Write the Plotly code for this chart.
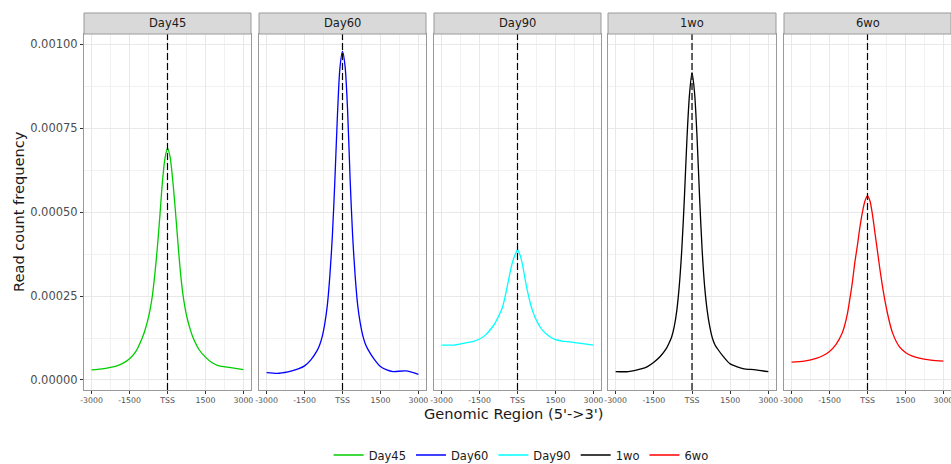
import plotly.graph_objects as go

# ---------------- data ----------------
positions = [-3000, -2500, -2000, -1750, -1500, -1250, -1000, -900, -800, -700, -600, -500,
             -400, -300, -200, -100, 0, 100, 200, 300, 400, 500, 600, 700, 800, 900, 1000,
             1250, 1500, 1750, 2000, 2500, 3000]

samples = ["Day45", "Day60", "Day90", "1wo", "6wo"]

day45 = [0.000030, 0.000034, 0.000042, 0.000050, 0.000063, 0.000085, 0.000125, 0.000146,
         0.000172, 0.000205, 0.000250, 0.000315, 0.000395, 0.000490, 0.000590, 0.000660,
         0.000690, 0.000665, 0.000600, 0.000515, 0.000420, 0.000330, 0.000260, 0.000212,
         0.000177, 0.000150, 0.000128, 0.000090, 0.000068, 0.000052, 0.000043, 0.000037,
         0.000031]

day60 = [0.000022, 0.000020, 0.000027, 0.000033, 0.000042, 0.000060, 0.000088, 0.000105,
         0.000130, 0.000168, 0.000222, 0.000310, 0.000430, 0.000597, 0.000788, 0.000930,
         0.000978, 0.000935, 0.000805, 0.000600, 0.000430, 0.000310, 0.000223, 0.000170,
         0.000133, 0.000108, 0.000092, 0.000062, 0.000040, 0.000030, 0.000025, 0.000027,
         0.000017]

day90 = [0.000104, 0.000104, 0.000111, 0.000115, 0.000122, 0.000135, 0.000157, 0.000168,
         0.000182, 0.000197, 0.000215, 0.000245, 0.000280, 0.000318, 0.000350, 0.000372,
         0.000387, 0.000372, 0.000342, 0.000300, 0.000262, 0.000230, 0.000205, 0.000185,
         0.000170, 0.000157, 0.000147, 0.000130, 0.000120, 0.000116, 0.000114, 0.000109,
         0.000104]

wo1 = [0.000025, 0.000025, 0.000033, 0.000040, 0.000053, 0.000070, 0.000095, 0.000110,
       0.000128, 0.000158, 0.000205, 0.000280, 0.000390, 0.000540, 0.000715, 0.000848,
       0.000915, 0.000855, 0.000720, 0.000540, 0.000385, 0.000275, 0.000205, 0.000158,
       0.000125, 0.000105, 0.000093, 0.000068, 0.000048, 0.000040, 0.000034, 0.000030,
       0.000025]

wo6 = [0.000053, 0.000056, 0.000065, 0.000073, 0.000085, 0.000105, 0.000140, 0.000163,
       0.000195, 0.000240, 0.000290, 0.000350, 0.000400, 0.000455, 0.000500, 0.000533,
       0.000548, 0.000532, 0.000490, 0.000435, 0.000380, 0.000325, 0.000275, 0.000232,
       0.000195, 0.000163, 0.000138, 0.000100, 0.000082, 0.000072, 0.000066, 0.000059,
       0.000056]

series = [day45, day60, day90, wo1, wo6]
colors = ["#00CD00", "#0000FF", "#00FFFF", "#000000", "#FF0000"]

x_tickvals = [-3000, -1500, 0, 1500, 3000]
x_ticktext = ["-3000", "-1500", "TSS", "1500", "3000"]
x_minor = [-2250, -750, 750, 2250]
y_tickvals = [0, 0.00025, 0.0005, 0.00075, 0.001]
y_ticktext = ["0.00000", "0.00025", "0.00050", "0.00075", "0.00100"]
y_minor = [0.000125, 0.000375, 0.000625, 0.000875]

# ---------------- layout geometry (px) ----------------
W, H = 951, 464
panels_px = [(84, 251), (259, 426), (434, 601), (608, 776), (784, 951)]
panel_top, panel_bot = 34, 390
strip_top = 13

def px_x(p):
    return p / W

def px_y(p):
    return 1 - p / H

fig = go.Figure()

layout = dict(
    width=W, height=H,
    margin=dict(l=0, r=0, t=0, b=0, autoexpand=False),
    paper_bgcolor="white", plot_bgcolor="white",
    font=dict(family="DejaVu Sans", color="#4d4d4d"),
    showlegend=True,
    legend=dict(orientation="h", x=0.548, xanchor="center", y=px_y(455), yanchor="middle",
                font=dict(size=11.5, color="#1a1a1a"), bgcolor="rgba(0,0,0,0)",
                itemwidth=30, tracegroupgap=0),
)

grid_major = "#e8e8e8"
grid_minor = "#f1f1f1"
border_col = "#9a9a9a"

shapes = []
annotations = []

for i, (name, vals, col) in enumerate(zip(samples, series, colors)):
    k = "" if i == 0 else str(i + 1)
    xa, ya = "x" + k, "y" + k
    fig.add_trace(go.Scatter(
        x=positions, y=vals, mode="lines", name=name,
        line=dict(color=col, width=1.3, shape="spline", smoothing=0.8),
        xaxis=xa, yaxis=ya,
    ))
    x0, x1 = panels_px[i]
    layout["xaxis" + k] = dict(
        domain=[px_x(x0), px_x(x1)], anchor=ya, automargin=False,
        range=[-3300, 3300],
        tickmode="array", tickvals=x_tickvals, ticktext=x_ticktext,
        tickfont=dict(size=7.8, color="#4d4d4d"),
        ticklabeloverflow="allow",
        ticks="outside", ticklen=3, tickcolor="#333333", tickwidth=1,
        showgrid=True, gridcolor=grid_major, gridwidth=1,
        minor=dict(tickmode="array", tickvals=x_minor, showgrid=True,
                   gridcolor=grid_minor, gridwidth=0.8, ticks=""),
        zeroline=False, showline=True, mirror=True, linecolor=border_col, linewidth=1,
        fixedrange=True,
    )
    layout["yaxis" + k] = dict(
        domain=[px_y(panel_bot), px_y(panel_top)], anchor=xa, automargin=False,
        range=[-0.0000298, 0.00103],
        tickmode="array", tickvals=y_tickvals, ticktext=y_ticktext,
        showticklabels=(i == 0),
        tickfont=dict(size=11.5, color="#4d4d4d"),
        ticks="outside" if i == 0 else "", ticklen=3, tickcolor="#333333",
        showgrid=True, gridcolor=grid_major, gridwidth=1,
        minor=dict(tickmode="array", tickvals=y_minor, showgrid=True,
                   gridcolor=grid_minor, gridwidth=0.8, ticks=""),
        zeroline=False, showline=True, mirror=True, linecolor=border_col, linewidth=1,
        fixedrange=True,
    )
    # TSS dashed line
    shapes.append(dict(type="line", xref=xa, yref=ya + " domain", x0=0, x1=0, y0=0, y1=1,
                       line=dict(color="black", width=1.2, dash="7px,3px"), layer="above"))
    # strip
    shapes.append(dict(type="rect", xref="paper", yref="paper",
                       x0=px_x(x0), x1=px_x(x1), y0=px_y(panel_top), y1=px_y(strip_top),
                       fillcolor="#d9d9d9", line=dict(color=border_col, width=1), layer="above"))
    annotations.append(dict(text=name, xref="paper", yref="paper",
                            x=px_x((x0 + x1) / 2), y=px_y((panel_top + strip_top) / 2),
                            xanchor="center", yanchor="middle", showarrow=False,
                            font=dict(size=11.5, color="#1a1a1a")))

annotations.append(dict(text="Genomic Region (5'->3')", xref="paper", yref="paper",
                        x=px_x(513), y=px_y(413), xanchor="center", yanchor="middle",
                        showarrow=False, font=dict(size=14.6, color="#1a1a1a")))
annotations.append(dict(text="Read count frequency", xref="paper", yref="paper",
                        x=px_x(18), y=px_y(212), xanchor="center", yanchor="middle",
                        textangle=-90, showarrow=False, font=dict(size=14.6, color="#1a1a1a")))

layout["shapes"] = shapes
layout["annotations"] = annotations
fig.update_layout(**layout)

fig.write_html("out.html")
